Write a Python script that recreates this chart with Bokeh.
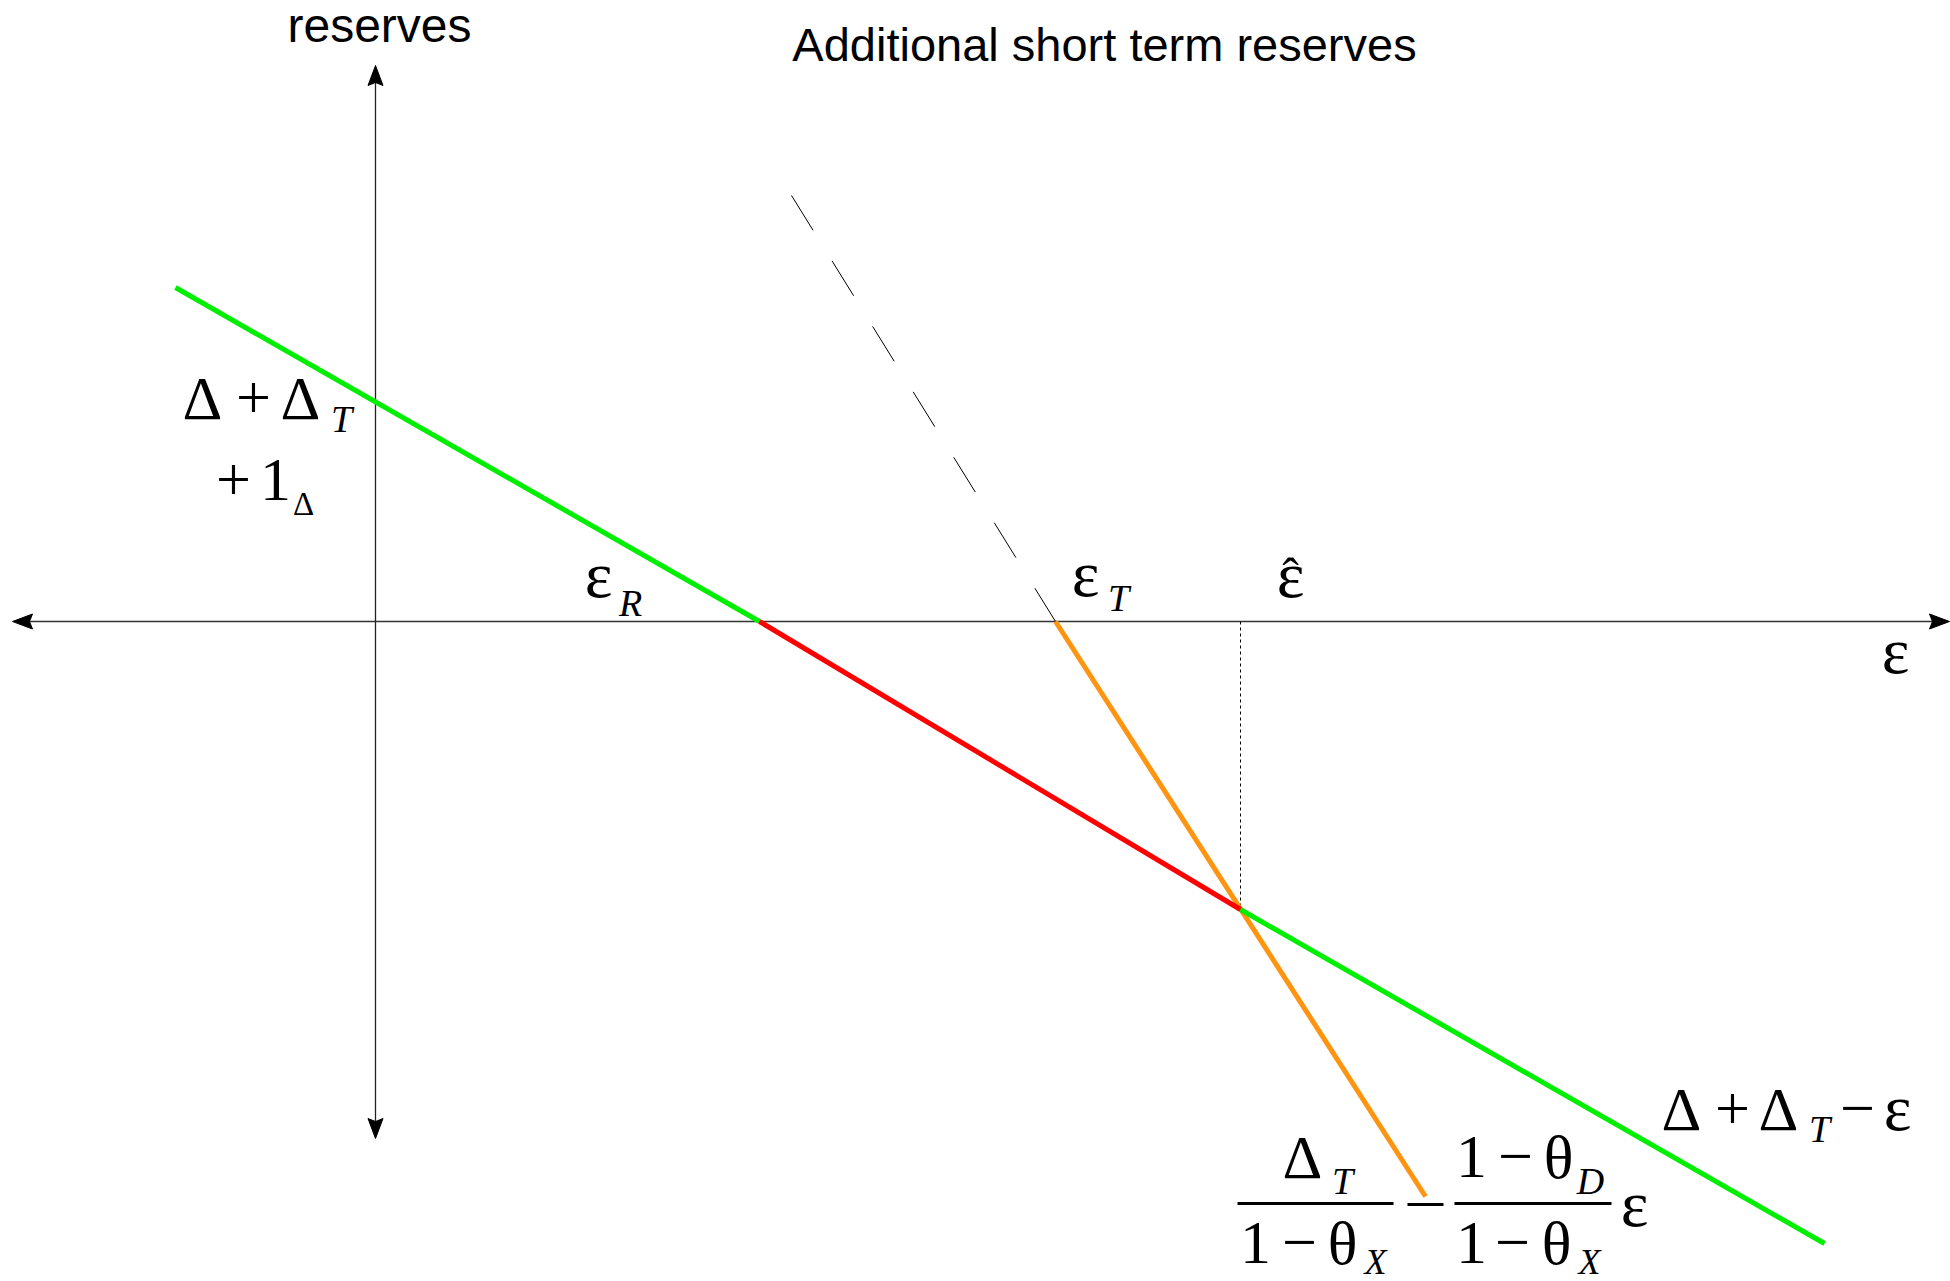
from bokeh.plotting import figure
from bokeh.models import Range1d
from bokeh.core.properties import value
from bokeh.embed import file_html
from bokeh.resources import INLINE

# Reserve line  R(eps) = Δ + Δ_T − ε : end points and break points
reserve_eps = [-2.00, 3.84, 8.65, 14.49]
reserve_val = [3.34, 0.00, -2.88, -6.22]
reserve_colors = ["#00ee00", "#ff0000", "#00ee00"]

# Short term line  Δ_T/(1−θ_X) − (1−θ_D)/(1−θ_X) ε
short_dashed_eps = [4.16, 6.80]
short_dashed_val = [4.26, 0.00]
short_eps = [6.80, 10.50]
short_val = [0.00, -5.75]

# Thresholds on the ε axis
eps_R = 3.84
eps_T = 6.80
eps_hat = 8.65
val_hat = -2.88

W, H = 1950, 1281
X0, Y0, S = 375, 621, 100.0   # origin in canvas pixels, pixels per unit


def ux(px):
    return (px - X0) / S


def uy(py):
    return (Y0 - py) / S


p = figure(width=W, height=H,
           x_range=Range1d(ux(0), ux(W)), y_range=Range1d(uy(H), uy(0)),
           output_backend="svg", toolbar_location=None,
           x_axis_location=None, y_axis_location=None, min_border=0)
p.grid.visible = False
p.outline_line_color = None
p.background_fill_color = "white"
p.border_fill_color = "white"

# coordinate axes
p.line([ux(20), ux(1940)], [0, 0], line_color="#333333", line_width=1.5)
p.line([0, 0], [uy(72), uy(1130)], line_color="#222222", line_width=1.3)


def arrow_head(tx, ty, dirx, diry, length=20, half=7.5, notch=3):
    # notched arrow head with its tip at (tx, ty) pixels, pointing along (dirx, diry)
    nx, ny = -diry, dirx
    bx, by = tx - dirx * length, ty - diry * length
    mx, my = tx - dirx * (length - notch), ty - diry * (length - notch)
    pts = [(tx, ty), (bx + nx * half, by + ny * half), (mx, my), (bx - nx * half, by - ny * half)]
    p.patch([ux(a) for a, _ in pts], [uy(b) for _, b in pts],
            fill_color="black", line_color="black", line_width=1)


arrow_head(12, 621, -1, 0)
arrow_head(1949, 621, 1, 0)
arrow_head(375, 65, 0, -1)
arrow_head(375, 1138, 0, 1)

# dashed continuation of the short term line
p.line(short_dashed_eps, short_dashed_val, line_color="black", line_width=1,
       line_dash="41 36")

# dotted guide at ε̂
p.line([eps_hat, eps_hat], [0, val_hat], line_color="black", line_width=1,
       line_dash="3 3")

# short term line
p.line(short_eps, short_val, line_color="#ff9410", line_width=5)

# reserve line, coloured by regime
for i, c in enumerate(reserve_colors):
    p.line(reserve_eps[i:i + 2], reserve_val[i:i + 2], line_color=c, line_width=5)


SERIF = "Liberation Serif"
SANS = "Liberation Sans"


def put(px, base, s, size, italic=False, font=SERIF, align="center"):
    lift = (0.35 if font == SANS else 0.30) * size
    p.text(x=[ux(px)], y=[uy(base - lift)], text=[s], text_font=value(font),
           text_font_size=f"{size}px",
           text_font_style="italic" if italic else "normal",
           text_align=align, text_baseline="alphabetic", text_color="black")


def bar(x1, x2, py):
    p.segment(x0=[ux(x1)], y0=[uy(py)], x1=[ux(x2)], y1=[uy(py)],
              line_color="black", line_width=3)


put(379, 42, "reserves", 48, font=SANS)
put(1104, 60, "Additional short term reserves", 47, font=SANS)

M, SUB = 62, 38

# Δ + Δ_T + 1_Δ  (intercept)
put(202, 416, "Δ", M)
put(253, 416, "+", M)
put(300, 416, "Δ", M)
put(341, 430, "T", SUB, italic=True)
put(233, 498, "+", M)
put(275, 498, "1", M)
put(303, 513, "Δ", 33)

# ε_R, ε_T, ε̂, ε
put(598, 594, "ε", 66)
put(630, 614, "R", SUB, italic=True)
put(1085, 593, "ε", 66)
put(1118, 609, "T", SUB, italic=True)
put(1290, 594, "ε", 66)
put(1290, 590, "ˆ", 50)
put(1895, 670, "ε", 66)

# Δ + Δ_T − ε
put(1681, 1127, "Δ", M)
put(1732, 1127, "+", M)
put(1778, 1127, "Δ", M)
put(1819, 1140, "T", SUB, italic=True)
put(1857, 1127, "−", M)
put(1897, 1127, "ε", 66)

# Δ_T/(1−θ_X) − (1−θ_D)/(1−θ_X) ε
put(1302, 1175, "Δ", M)
put(1342, 1192, "T", SUB, italic=True)
bar(1237, 1393, 1203)
put(1255, 1261, "1", M)
put(1299, 1261, "−", M)
put(1342, 1261, "θ", M)
put(1375, 1272, "X", 36, italic=True)
bar(1407, 1443, 1204)
put(1471, 1175, "1", M)
put(1515, 1175, "−", M)
put(1558, 1175, "θ", M)
put(1590, 1192, "D", SUB, italic=True)
bar(1454, 1611, 1203)
put(1471, 1261, "1", M)
put(1512, 1261, "−", M)
put(1556, 1261, "θ", M)
put(1589, 1272, "X", 36, italic=True)
put(1634, 1223, "ε", 66)

open("out.html", "w").write(file_html(p, INLINE))
